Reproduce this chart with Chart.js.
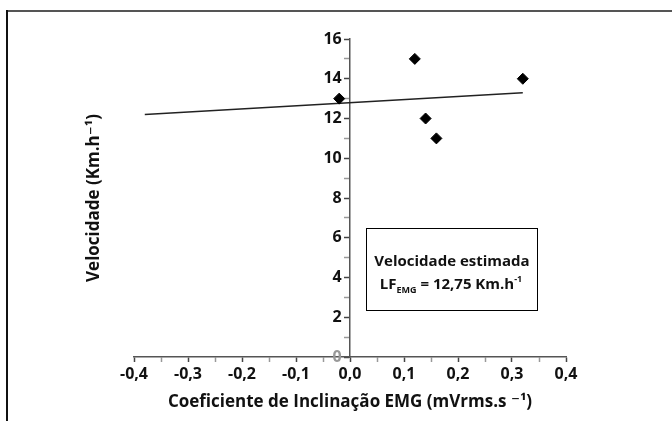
<!DOCTYPE html>
<html>
<head>
<meta charset="utf-8">
<script src="https://cdn.jsdelivr.net/npm/chart.js@4.4.1/dist/chart.umd.min.js"></script>
<style>
  html, body { margin: 0; padding: 0; background: #fff; }
  #wrap { width: 672px; height: 421px; }
</style>
</head>
<body>
<div id="wrap"><canvas id="myChart" width="672" height="421"></canvas></div>
<script>
// data
const slopeEMG = [-0.02, 0.12, 0.14, 0.16, 0.32];
const velocity = [13, 15, 12, 11, 14];
const fitX = [-0.38, 0.32];
const fitY = [12.2, 13.3];
const xTicks = [-0.4, -0.3, -0.2, -0.1, 0.0, 0.1, 0.2, 0.3, 0.4];
const yTicks = [0, 2, 4, 6, 8, 10, 12, 14, 16];

const FONT = "'Open Sans', 'DejaVu Sans', sans-serif";
const comma = v => v.toFixed(1).replace('.', ',');

// frame and annotation box
const extras = {
  id: 'extras',
  afterDraw(chart) {
    const ctx = chart.ctx;
    ctx.save();
    // frame (top + left only, like the cut figure)
    ctx.fillStyle = '#555';
    ctx.fillRect(6, 10, 666, 2);
    ctx.fillStyle = '#111';
    ctx.fillRect(6, 10, 2, 411);

    // text box
    ctx.strokeStyle = '#000';
    ctx.lineWidth = 1;
    ctx.strokeRect(366.5, 228.5, 171, 82);
    ctx.fillStyle = '#111';
    ctx.textBaseline = 'alphabetic';
    ctx.textAlign = 'center';
    ctx.font = 'bold 15px ' + FONT;
    ctx.fillText('Velocidade estimada', 452, 266);

    // LF_EMG = 12,75 Km.h^-1
    const big = 'bold 15px ' + FONT, small = 'bold 9px ' + FONT;
    const parts = [['LF', big, 0], ['EMG', small, 4], [' = 12,75 Km.h', big, 0], ['-1', small, -7]];
    let w = 0;
    parts.forEach(p => { ctx.font = p[1]; w += ctx.measureText(p[0]).width; });
    let x = 451 - w / 2;
    ctx.textAlign = 'left';
    parts.forEach(p => {
      ctx.font = p[1];
      ctx.fillText(p[0], x, 289 + p[2]);
      x += ctx.measureText(p[0]).width;
    });
    ctx.restore();
  }
};

const ctx = document.getElementById('myChart').getContext('2d');
new Chart(ctx, {
  type: 'scatter',
  data: {
    datasets: [{
      label: 'Velocidade',
      data: slopeEMG.map((x, i) => ({ x: x, y: velocity[i] })),
      pointStyle: 'rectRot',
      pointRadius: 5.5,
      backgroundColor: '#000',
      borderColor: '#000',
      borderWidth: 1,
      yAxisID: 'y'
    }, {
      type: 'line',
      label: 'Regressao',
      data: fitX.map((x, i) => ({ x: x, y: fitY[i] })),
      borderColor: '#222',
      borderWidth: 1.5,
      pointRadius: 0,
      fill: false,
      yAxisID: 'y'
    }]
  },
  options: {
    responsive: false,
    animation: false,
    layout: { padding: { left: 0, right: 106, top: 39, bottom: 0 } },
    plugins: { legend: { display: false }, tooltip: { enabled: false } },
    scales: {
      x: {
        type: 'linear',
        position: 'bottom',
        min: -0.4, max: 0.4,
        afterBuildTicks: s => {
          const t = [];
          for (let i = 0; i < xTicks.length; i++) {
            t.push({ value: xTicks[i] });
            if (i < xTicks.length - 1) t.push({ value: (xTicks[i] + xTicks[i + 1]) / 2, minor: true });
          }
          s.ticks = t;
        },
        afterFit: s => { s.height = 64; },
        border: { display: true, color: '#555', width: 1.5 },
        grid: {
          display: true, drawOnChartArea: false, drawTicks: true, tickLength: 5,
          tickColor: c => (c.tick && c.tick.minor) ? '#999' : '#444',
          tickWidth: 1.5
        },
        ticks: {
          autoSkip: false, maxRotation: 0, padding: 3,
          color: '#111',
          font: { family: FONT, size: 16, weight: 'bold' },
          callback: function (v, i, ticks) { return ticks[i].minor ? '' : comma(v); }
        },
        title: {
          display: true,
          text: 'Coeficiente de Inclinação EMG (mVrms.s \u207B\u00B9)',
          color: '#111',
          font: { family: FONT, size: 17, weight: 'bold' },
          padding: { top: 0, bottom: 9 }
        }
      },
      y: {
        type: 'linear',
        position: { x: 0 },
        min: 0, max: 16,
        afterBuildTicks: s => {
          const t = [];
          for (let i = 0; i < yTicks.length; i++) {
            t.push({ value: yTicks[i] });
            if (i < yTicks.length - 1) t.push({ value: (yTicks[i] + yTicks[i + 1]) / 2, minor: true });
          }
          s.ticks = t;
        },
        border: { display: true, color: '#555', width: 1.5 },
        grid: {
          display: true, drawOnChartArea: false, drawTicks: true, tickLength: 5,
          tickColor: c => (c.tick && c.tick.minor) ? '#999' : '#444',
          tickWidth: 1.5
        },
        ticks: {
          autoSkip: false,
          color: c => (c.tick && c.tick.value === 0) ? '#999' : '#111',
          font: { family: FONT, size: 16, weight: 'bold' },
          // labels sit right on the crossing axis, so pad them with spaces
          callback: function (v, i, ticks) { return ticks[i].minor ? '' : String(v) + '  '; }
        }
      },
      yTitle: {
        type: 'linear',
        position: 'left',
        min: 0, max: 16,
        afterFit: s => { s.width = 134; },
        border: { display: false },
        grid: { display: false },
        ticks: { display: false },
        title: {
          display: true,
          text: 'Velocidade (Km.h\u207B\u00B9)',
          color: '#111',
          font: { family: FONT, size: 17, weight: 'bold' },
          padding: { top: 84, bottom: 0 }
        }
      }
    }
  },
  plugins: [extras]
});
</script>
</body>
</html>
